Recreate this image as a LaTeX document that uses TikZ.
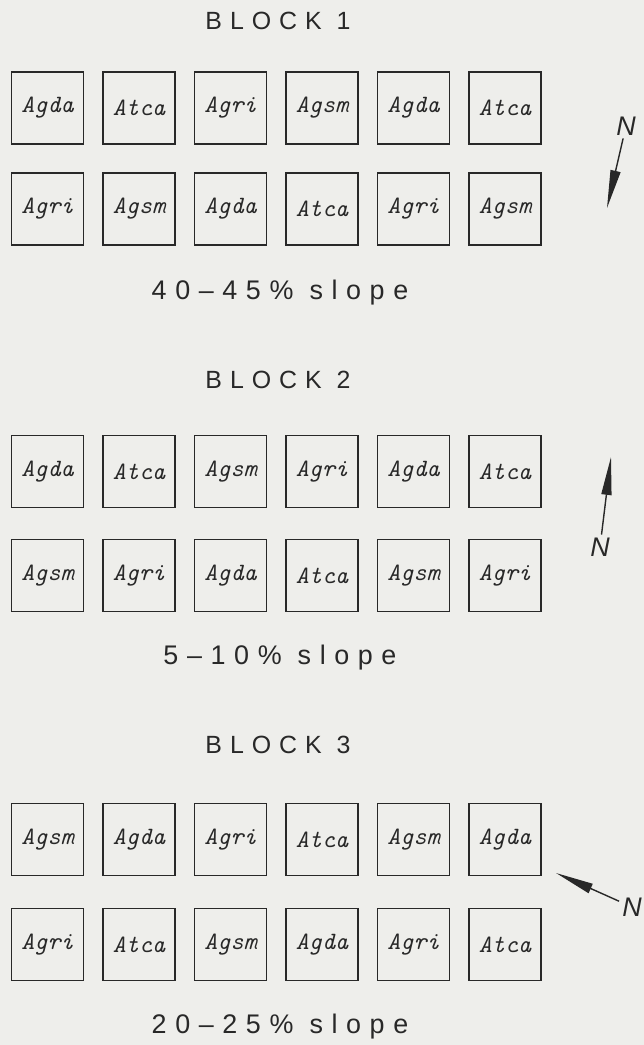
\documentclass[tikz,border=0pt]{standalone}
\usepackage{fontspec}
\setmainfont{Liberation Sans}
\newfontfamily\spacedfont[LetterSpace=32]{Liberation Sans}
\usetikzlibrary{arrows.meta,positioning}
\definecolor{paper}{RGB}{238,238,235}
\definecolor{ink}{RGB}{40,40,40}

\begin{document}
\begin{tikzpicture}[x=1bp,y=-1bp,>={Triangle[length=38bp,width=10bp]},
  plot/.style={draw=ink,line width=1.2bp,minimum width=72bp,minimum height=72bp,
    inner sep=0pt,text=ink,font=\fontsize{25}{25}\selectfont\ttfamily\itshape},
  heading/.style={text=ink,font=\fontsize{25}{25}\selectfont\spacedfont},
  slopelbl/.style={text=ink,font=\fontsize{27}{27}\selectfont\spacedfont},
  northlbl/.style={text=ink,inner sep=3bp,font=\fontsize{27}{27}\selectfont\itshape},
  north/.style={->,draw=ink,fill=ink,line width=1.4bp}]
  \fill[paper] (0,0) rectangle (644,1045);
  \useasboundingbox (0,0) rectangle (644,1045);

  % three blocks of plots, two rows each
  \foreach \blk/\ya/\yb/\yt/\ys/\rowa/\rowb/\slope in {
    1/108/209/21/293/{Agda,Atca,Agri,Agsm,Agda,Atca}/{Agri,Agsm,Agda,Atca,Agri,Agsm}/{40\textendash45\%},
    2/471.5/575.5/380/658/{Agda,Atca,Agsm,Agri,Agda,Atca}/{Agsm,Agri,Agda,Atca,Agsm,Agri}/{5\textendash10\%},
    3/839.5/944.5/745/1027/{Agsm,Agda,Agri,Atca,Agsm,Agda}/{Agri,Atca,Agsm,Agda,Agri,Atca}/{20\textendash25\%}}{
    \node[heading] (title\blk) at (278,\yt) {BLOCK \blk};
    \foreach \lbl [count=\c] in \rowa
      \node[plot] (p\blk a\c) at ({47.5+91.5*(\c-1)},\ya) {\lbl};
    \foreach \lbl [count=\c] in \rowb
      \node[plot] (p\blk b\c) at ({47.5+91.5*(\c-1)},\yb) {\lbl};
    \node[slopelbl] (slope\blk) at (280,\ys) {\slope{} slope};
  }

  % north arrows
  \node[northlbl] (n1) at (626,126) {N};
  \coordinate (h1) at (607,208);
  \draw[north] (n1) -- (h1);
  \node[northlbl] (n2) at (600,547) {N};
  \coordinate (h2) at (611,457);
  \draw[north] (n2) -- (h2);
  \node[northlbl] (n3) at (632,907) {N};
  \coordinate (h3) at (556,873);
  \draw[north] (n3) -- (h3);
\end{tikzpicture}
\end{document}
